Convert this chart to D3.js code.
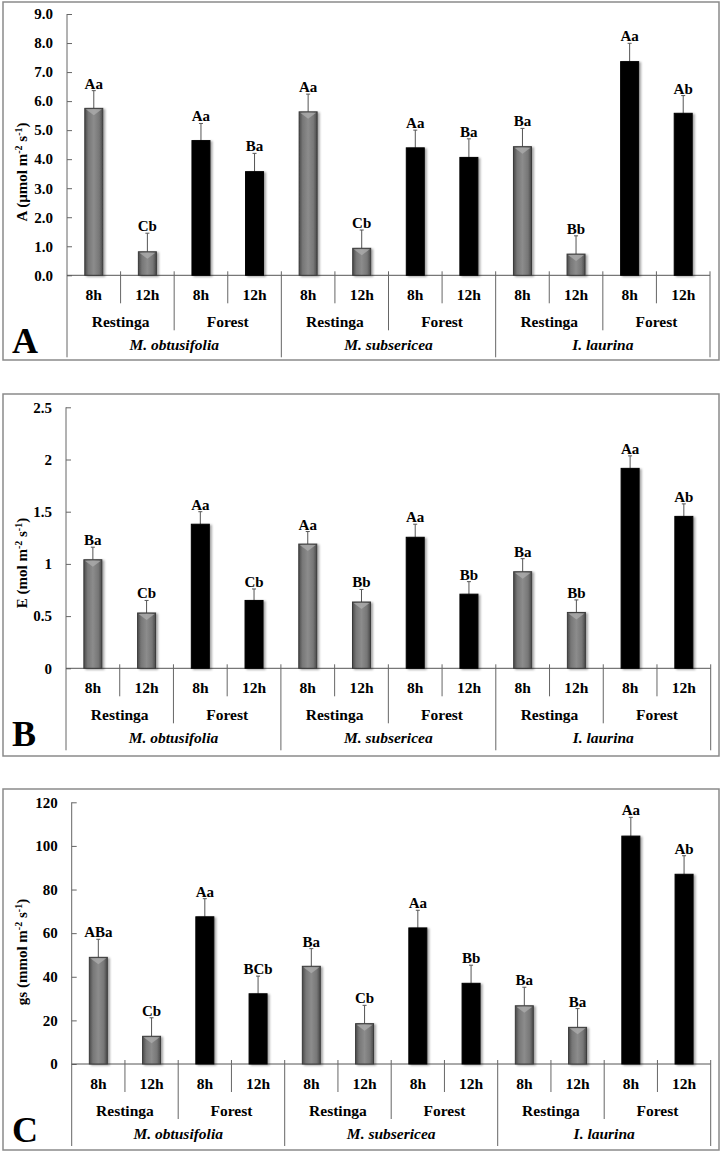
<!DOCTYPE html>
<html><head><meta charset="utf-8">
<script src="https://cdn.jsdelivr.net/npm/d3@7"></script>
<style>
html,body{margin:0;padding:0;background:#fff;}
svg{display:block;}
text{font-family:"Liberation Serif","Times New Roman",serif;font-weight:bold;fill:#000;}
</style></head>
<body>
<svg id="chart" width="722" height="1152"></svg>
<script>
// ---- data ----
const species = ["M. obtusifolia", "M. subsericea", "I. laurina"];
const sites = ["Restinga", "Forest"];
const times = ["8h", "12h"];

// Panel A: net photosynthesis
const valuesA = [5.75, 0.81, 4.64, 3.57, 5.63, 0.93, 4.39, 4.06, 4.43, 0.73, 7.36, 5.58];
const errA    = [0.61, 0.64, 0.59, 0.63, 0.61, 0.63, 0.61, 0.64, 0.63, 0.63, 0.63, 0.61];
const lettersA = ["Aa","Cb","Aa","Ba","Aa","Cb","Aa","Ba","Ba","Bb","Aa","Ab"];
const ticksA = [0,1,2,3,4,5,6,7,8,9];

// Panel B: transpiration
const valuesB = [1.04, 0.53, 1.38, 0.65, 1.19, 0.635, 1.255, 0.71, 0.925, 0.535, 1.915, 1.455];
const errB    = [0.12, 0.12, 0.12, 0.11, 0.12, 0.12, 0.125, 0.12, 0.125, 0.12, 0.12, 0.12];
const lettersB = ["Ba","Cb","Aa","Cb","Aa","Bb","Aa","Bb","Ba","Bb","Aa","Ab"];
const ticksB = [0,0.5,1,1.5,2,2.5];

// Panel C: stomatal conductance
const valuesC = [48.9, 12.7, 67.5, 32.2, 44.8, 18.5, 62.4, 37.0, 26.7, 16.8, 104.5, 87.0];
const errC    = [8.3, 8.5, 8.3, 8.1, 8.1, 8.4, 8.1, 8.3, 8.5, 8.6, 8.6, 8.5];
const lettersC = ["ABa","Cb","Aa","BCb","Ba","Cb","Aa","Bb","Ba","Ba","Aa","Ab"];
const ticksC = [0,20,40,60,80,100,120];

// categories built from the grouping arrays
const categories = [];
species.forEach(sp => sites.forEach(si => times.forEach(t => categories.push({sp, si, t, key: sp + "|" + si + "|" + t}))));

const panels = [
  {letter:"A", values:valuesA, err:errA, letters:lettersA, ticks:ticksA, fmt:d3.format(".1f"), max:9,
   ylab:["A (µmol m","-2"," s","-1",")"], frame:[3,2,716,358], left:67, right:710, top:14, bottom:275.3, ylabY:172},
  {letter:"B", values:valuesB, err:errB, letters:lettersB, ticks:ticksB, fmt:d => String(d), max:2.5,
   ylab:["E (mol m","-2"," s","-1",")"], frame:[3,394,716,362], left:66, right:710.7, top:407.3, bottom:668.3, ylabY:563},
  {letter:"C", values:valuesC, err:errC, letters:lettersC, ticks:ticksC, fmt:d3.format("d"), max:120,
   ylab:["gs (mmol m","-2"," s","-1",")"], frame:[3,789,716,361], left:71.7, right:710.7, top:802.3, bottom:1064, ylabY:952}
];

const svg = d3.select("#chart");
const defs = svg.append("defs");
const grad = defs.append("linearGradient").attr("id","gbar").attr("x1","0%").attr("x2","100%").attr("y1","0%").attr("y2","0%");
[[0,"#4a4a4a"],[0.2,"#777"],[0.5,"#8c8c8c"],[0.8,"#777"],[1,"#4a4a4a"]].forEach(([o,c]) =>
  grad.append("stop").attr("offset", o).attr("stop-color", c));
const sh = defs.append("filter").attr("id","shadow").attr("x","-30%").attr("y","-10%").attr("width","160%").attr("height","130%");
sh.append("feDropShadow").attr("dx",2).attr("dy",1).attr("stdDeviation",1).attr("flood-color","#000").attr("flood-opacity",0.35);

panels.forEach(p => {
  const g = svg.append("g");
  // frame
  g.append("rect").attr("x", p.frame[0]).attr("y", p.frame[1]).attr("width", p.frame[2]).attr("height", p.frame[3])
    .attr("fill","none").attr("stroke","#8a8a8a").attr("stroke-width",1.5);

  const x = d3.scaleBand().domain(categories.map(c => c.key)).range([p.left, p.right]).padding(0);
  const y = d3.scaleLinear().domain([0, p.max]).range([p.bottom, p.top]);
  const bw = 18;

  // y axis
  const yAxis = d3.axisLeft(y).tickValues(p.ticks).tickFormat(p.fmt).tickSizeInner(-5).tickSizeOuter(0).tickPadding(14);
  const ya = g.append("g").attr("transform", `translate(${p.left},0)`).call(yAxis);
  ya.select(".domain").remove();
  ya.selectAll(".tick line").attr("stroke","#666");
  ya.selectAll(".tick text").attr("font-size", 15).attr("font-family","Liberation Serif, serif").attr("font-weight","bold").attr("fill","#000");

  // left axis line extended down
  g.append("line").attr("x1", p.left).attr("x2", p.left).attr("y1", p.top).attr("y2", p.bottom + 82)
    .attr("stroke","#666").attr("stroke-width",1);
  // x axis line
  g.append("line").attr("x1", p.left).attr("x2", p.right).attr("y1", p.bottom).attr("y2", p.bottom)
    .attr("stroke","#555").attr("stroke-width",1);

  // separators
  categories.forEach((c, i) => {
    if (i === 0) return;
    const xx = x(c.key);
    let len = 28;
    if (i % 2 === 0) len = 55;
    if (i % 4 === 0) len = 82;
    g.append("line").attr("x1", xx).attr("x2", xx).attr("y1", p.bottom - 4).attr("y2", p.bottom + len)
      .attr("stroke","#666").attr("stroke-width",1);
  });
  g.append("line").attr("x1", p.right).attr("x2", p.right).attr("y1", p.bottom - 4).attr("y2", p.bottom + 82)
    .attr("stroke","#666").attr("stroke-width",1);

  // category labels
  categories.forEach(c => {
    g.append("text").attr("x", x(c.key) + x.bandwidth()/2).attr("y", p.bottom + 25)
      .attr("text-anchor","middle").attr("font-size",15.5).text(c.t);
  });
  const siteW = x.bandwidth()*2;
  categories.filter((c,i) => i % 2 === 0).forEach(c => {
    g.append("text").attr("x", x(c.key) + siteW/2).attr("y", p.bottom + 52)
      .attr("text-anchor","middle").attr("font-size",15.5).text(c.si);
  });
  categories.filter((c,i) => i % 4 === 0).forEach(c => {
    g.append("text").attr("x", x(c.key) + siteW).attr("y", p.bottom + 75)
      .attr("text-anchor","middle").attr("font-size",15.5).attr("font-style","italic").text(c.sp);
  });

  // bars
  const data = categories.map((c, i) => ({c, v: p.values[i], e: p.err[i], l: p.letters[i]}));
  const bars = g.append("g");
  bars.selectAll("line.err").data(data).join("line").attr("class","err")
    .attr("x1", d => x(d.c.key) + x.bandwidth()/2).attr("x2", d => x(d.c.key) + x.bandwidth()/2)
    .attr("y1", d => y(d.v)).attr("y2", d => y(d.v + d.e)).attr("stroke","#555").attr("stroke-width",1);
  bars.selectAll("line.cap").data(data).join("line").attr("class","cap")
    .attr("x1", d => x(d.c.key) + x.bandwidth()/2 - 2).attr("x2", d => x(d.c.key) + x.bandwidth()/2 + 2)
    .attr("y1", d => y(d.v + d.e)).attr("y2", d => y(d.v + d.e)).attr("stroke","#555").attr("stroke-width",1);
  bars.selectAll("rect").data(data).join("rect")
    .attr("x", d => x(d.c.key) + x.bandwidth()/2 - bw/2).attr("width", bw)
    .attr("y", d => y(d.v)).attr("height", d => y(0) - y(d.v))
    .attr("fill", d => d.c.si === "Restinga" ? "url(#gbar)" : "#000")
    .attr("stroke", d => d.c.si === "Restinga" ? "#3a3a3a" : "#000").attr("stroke-width",1)
    .attr("filter","url(#shadow)");
  // bevel highlight on gray bars
  bars.selectAll("path.bev").data(data.filter(d => d.c.si === "Restinga")).join("path").attr("class","bev")
    .attr("d", d => {
      const cx = x(d.c.key) + x.bandwidth()/2, t = y(d.v);
      return `M${cx-bw/2+1},${t+1}L${cx+bw/2-1},${t+1}L${cx},${t+7}Z`;
    }).attr("fill","#b0b0b0").attr("opacity",0.7);
  bars.selectAll("text").data(data).join("text")
    .attr("x", d => x(d.c.key) + x.bandwidth()/2).attr("y", d => y(d.v + d.e) - 2)
    .attr("text-anchor","middle").attr("font-size",15).text(d => d.l);

  // y label
  const yl = g.append("text").attr("transform", `translate(27,${p.ylabY}) rotate(-90)`)
    .attr("text-anchor","middle").attr("font-size",15);
  p.ylab.forEach((s, i) => {
    const t = yl.append("tspan").text(s);
    if (i % 2 === 1) t.attr("font-size",10).attr("dy",-5);
    else if (i > 0) t.attr("dy",5);
  });

  // panel letter
  g.append("text").attr("x", 12).attr("y", p.bottom + 78).attr("font-size",36).text(p.letter);
});
</script>
</body></html>
